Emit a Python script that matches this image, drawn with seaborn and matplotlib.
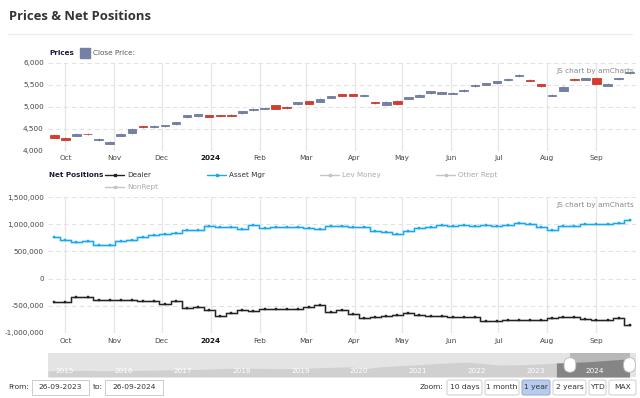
import numpy as np
import pandas as pd
import matplotlib
matplotlib.use("Agg")
import matplotlib.pyplot as plt
import matplotlib.dates as mdates
from matplotlib.patches import Rectangle, FancyBboxPatch
from matplotlib.lines import Line2D
import seaborn as sns

# weekly data (26-09-2023 .. 26-09-2024)
weeks = pd.date_range("2023-09-24", periods=53, freq="7D")

open_px = [4360, 4300, 4350, 4395, 4240, 4170, 4350, 4410, 4560, 4545,
           4565, 4615, 4775, 4795, 4810, 4810, 4815, 4865, 4930, 4960,
           5040, 5010, 5070, 5125, 5120, 5210, 5285, 5290, 5240, 5105,
           5055, 5140, 5190, 5235, 5320, 5305, 5300, 5365, 5475, 5505,
           5535, 5615, 5695, 5620, 5515, 5255, 5370, 5645, 5620, 5650,
           5485, 5625, 5765]
close_px = [4300, 4240, 4390, 4380, 4270, 4215, 4390, 4500, 4535, 4565,
            4585, 4650, 4810, 4830, 4780, 4795, 4800, 4900, 4955, 4980,
            4960, 4975, 5105, 5075, 5180, 5245, 5255, 5255, 5270, 5090,
            5110, 5060, 5220, 5270, 5355, 5335, 5315, 5385, 5500, 5540,
            5580, 5640, 5730, 5595, 5480, 5280, 5455, 5605, 5650, 5530,
            5520, 5650, 5800]

dealer = [-430, -430, -340, -340, -385, -385, -385, -397, -415, -415,
          -459, -409, -538, -519, -580, -679, -635, -574, -598, -556,
          -556, -556, -560, -525, -480, -617, -580, -648, -721, -708,
          -690, -666, -629, -660, -679, -690, -703, -708, -708, -782,
          -782, -763, -758, -770, -758, -727, -708, -703, -740, -770,
          -758, -716, -850]
asset_mgr = [770, 705, 673, 686, 624, 624, 686, 710, 770, 800,
             825, 838, 888, 888, 967, 943, 943, 917, 985, 925,
             948, 948, 948, 930, 915, 961, 961, 943, 954, 875,
             851, 826, 875, 930, 954, 990, 967, 985, 972, 985,
             961, 985, 1015, 1004, 948, 900, 961, 972, 998, 998,
             998, 1022, 1077]

month_labels = ["Oct", "Nov", "Dec", "2024", "Feb", "Mar", "Apr", "May",
                "Jun", "Jul", "Aug", "Sep"]

# navigator (long history)
nav_years = [2014.88, 2015.0, 2015.5, 2016.0, 2016.5, 2017.0, 2017.5, 2018.0,
             2018.5, 2019.0, 2019.5, 2020.0, 2020.25, 2020.5, 2021.0, 2021.5,
             2022.0, 2022.5, 2023.0, 2023.5, 2024.0, 2024.5, 2024.74]
nav_close = [1950, 2050, 2080, 1940, 2100, 2270, 2420, 2820, 2720, 2600, 2950,
             3230, 2600, 3200, 3750, 4300, 4700, 3800, 3900, 4450, 4800,
             5450, 5750]
nav_labels = [str(y) for y in range(2015, 2025)]

zoom_buttons = ["10 days", "1 month", "1 year", "2 years", "YTD", "MAX"]

sns.set_theme(style="white")
plt.rcParams["font.family"] = ["DejaVu Sans"]

W, H = 640, 398
fig = plt.figure(figsize=(6.4, 3.98), dpi=100)
fig.patch.set_facecolor("white")


def fx(x):
    return x / W


def fy(y):
    return 1 - y / H


def add_ax(x0, y0, x1, y1):
    return fig.add_axes([fx(x0), fy(y1), fx(x1 - x0), (y1 - y0) / H])


# title
fig.text(fx(9), fy(16), "Prices & Net Positions", fontsize=9.4, fontweight="bold",
         family="Open Sans", color="#333333", va="center")
fig.add_artist(Line2D([fx(8), fx(632)], [fy(34), fy(34)], color="#eeeeee", lw=1))

xmin = pd.Timestamp("2023-09-20")
xmax = pd.Timestamp("2024-09-26")


def style_time_axis(ax):
    ax.set_xlim(xmin, xmax)
    ax.xaxis.set_major_locator(mdates.MonthLocator())
    ax.set_xticklabels([])
    for s in ax.spines.values():
        s.set_visible(False)
    ax.grid(False)
    ax.tick_params(axis="both", length=0, labelsize=5.2, colors="#444444", pad=3)
    for m in ax.xaxis.get_major_locator()():
        ax.axvline(m, color="#e6e6e6", lw=0.9, zorder=0)
    for yv in ax.get_yticks():
        ax.axhline(yv, color="#e2e2e2", lw=0.8, ls=(0, (4, 3)), zorder=0)


def month_text(ax, ypix):
    locs = ax.xaxis.get_major_locator()()
    for m, lab in zip(locs, month_labels):
        disp = ax.transData.transform((m, 0))[0]
        fig.text(disp / fig.bbox.width, fy(ypix), lab, fontsize=5.2,
                 ha="center", va="center", color="#111111" if lab == "2024" else "#444444",
                 fontweight="bold" if lab == "2024" else "normal")


# ---- prices panel
ax1 = add_ax(48, 63, 636, 151)
ax1.set_ylim(4000, 6000)
ax1.set_yticks([4000, 4500, 5000, 5500, 6000])
ax1.set_yticklabels(["4,000", "4,500", "5,000", "5,500", "6,000"])
style_time_axis(ax1)
op = np.array(open_px)
cl = np.array(close_px)
up = cl >= op
cols = np.where(up, "#7381a6", "#d83a2c")
edges = np.where(up, "#5f6d94", "#c02818")
ax1.bar(weeks, np.maximum(np.abs(cl - op), 12), bottom=np.minimum(op, cl),
        width=5.4, color=cols, edgecolor=edges, linewidth=0.5, zorder=3)
ax1.vlines(weeks, np.minimum(op, cl) - 15, np.maximum(op, cl) + 15, color="#8e9ab8",
           lw=0.6, zorder=2)
month_text(ax1, 158)

fig.text(fx(49), fy(53), "Prices", fontsize=5.2, fontweight="bold", color="#1b1b3a",
         va="center")
fig.add_artist(Rectangle((fx(80), fy(58)), fx(10), 10 / H, color="#7381a6"))
fig.text(fx(93), fy(53), "Close Price:", fontsize=5.2, color="#555555", va="center")
fig.text(fx(634), fy(71), "JS chart by amCharts", fontsize=5.3, color="#888888",
         ha="right", va="center")

# ---- net positions panel
ax2 = add_ax(48, 197, 636, 333)
ax2.set_ylim(-1_000_000, 1_500_000)
ax2.set_yticks([-1_000_000, -500_000, 0, 500_000, 1_000_000, 1_500_000])
ax2.set_yticklabels(["-1,000,000", "-500,000", "0", "500,000", "1,000,000", "1,500,000"])
style_time_axis(ax2)
net = pd.DataFrame({"week": weeks,
                    "Dealer": np.array(dealer) * 1000,
                    "Asset Mgr": np.array(asset_mgr) * 1000})
sns.lineplot(data=net, x="week", y="Asset Mgr", ax=ax2, color="#a8e0f8", lw=1.9,
             drawstyle="steps-mid", zorder=2)
sns.lineplot(data=net, x="week", y="Asset Mgr", ax=ax2, color="#19a8ee", lw=0.8,
             drawstyle="steps-mid", marker="s", markersize=1.6, mec="#19a8ee",
             mew=0.3, zorder=3)
sns.lineplot(data=net, x="week", y="Dealer", ax=ax2, color="#bdbdbd", lw=1.9,
             drawstyle="steps-mid", zorder=2)
sns.lineplot(data=net, x="week", y="Dealer", ax=ax2, color="#222222", lw=0.8,
             drawstyle="steps-mid", marker="s", markersize=1.6, mec="#222222",
             mew=0.3, zorder=3)
ax2.set_xlabel("")
ax2.set_ylabel("")
ax2.set_xlim(xmin, xmax)
month_text(ax2, 341)
fig.text(fx(634), fy(205), "JS chart by amCharts", fontsize=5.3, color="#888888",
         ha="right", va="center")

fig.text(fx(49), fy(175), "Net Positions", fontsize=5.2, fontweight="bold",
         color="#1b1b3a", va="center")
legend_items = [("Dealer", 105, 175, "#222222", "#333333"),
                ("Asset Mgr", 207, 175, "#19a8ee", "#333333"),
                ("Lev Money", 320, 175, "#c4c4c4", "#aaaaaa"),
                ("Other Rept", 436, 175, "#c4c4c4", "#aaaaaa"),
                ("NonRept", 105, 187, "#c4c4c4", "#aaaaaa")]
for name, lx, ly, lc, tc in legend_items:
    fig.add_artist(Line2D([fx(lx), fx(lx + 19)], [fy(ly), fy(ly)], color=lc, lw=1.0))
    fig.add_artist(Line2D([fx(lx + 9.5)], [fy(ly)], color=lc, marker="s", ms=1.6))
    fig.text(fx(lx + 22), fy(ly), name, fontsize=5.2, color=tc, va="center")

# ---- navigator
ax3 = add_ax(48, 353, 636, 377)
ax3.set_facecolor("#e4e4e4")
ax3.set_xlim(2014.88, 2024.85)
ax3.set_ylim(0, 7600)
ax3.fill_between(nav_years, nav_close, color="#d0d0d0", lw=0)
nx = np.array(nav_years)
sel = nx >= 2023.5
ax3.axvspan(2023.73, 2024.74, color="#b8b8b8", lw=0)
ax3.fill_between(nx[sel], np.array(nav_close)[sel], color="#858585", lw=0)
ax3.set_xticks([])
ax3.set_yticks([])
for s in ax3.spines.values():
    s.set_visible(False)
for i, lab in enumerate(nav_labels):
    ax3.text(2015.0 + i, 900, lab, fontsize=5.2, color="white", va="bottom", ha="left")
for hx in (2023.73, 2024.74):
    ax3.add_patch(FancyBboxPatch((hx - 0.1, 1500), 0.2, 4600,
                                 boxstyle="round,pad=0,rounding_size=0.1",
                                 mutation_aspect=20000, fc="white", ec="#bbbbbb",
                                 lw=0.6, clip_on=False, zorder=5))

# ---- bottom controls
fig.text(fx(8), fy(387), "From:", fontsize=5.4, color="#333333", va="center")
for bx0, bx1, txt in [(32, 89, "26-09-2023"), (105, 163, "26-09-2024")]:
    fig.add_artist(Rectangle((fx(bx0), fy(395)), fx(bx1 - bx0), 15 / H, fc="white",
                             ec="#cccccc", lw=0.7))
    fig.text(fx((bx0 + bx1) / 2), fy(387), txt, fontsize=5.4, color="#333333",
             ha="center", va="center")
fig.text(fx(93), fy(387), "to:", fontsize=5.4, color="#333333", va="center")

fig.text(fx(420), fy(387), "Zoom:", fontsize=5.4, color="#333333", va="center")
btn_x = [(447, 482), (485, 519), (522, 550), (553, 586), (589, 606), (609, 636)]
for (bx0, bx1), txt in zip(btn_x, zoom_buttons):
    active = txt == "1 year"
    fig.add_artist(FancyBboxPatch((fx(bx0), fy(395)), fx(bx1 - bx0), 15 / H,
                                  boxstyle="round,pad=0,rounding_size=0.004",
                                  fc="#b7cbee" if active else "white",
                                  ec="#8fa8d6" if active else "#cccccc", lw=0.7))
    fig.text(fx((bx0 + bx1) / 2), fy(387), txt, fontsize=5.4, color="#333333",
             ha="center", va="center")

fig.savefig("out.png", dpi=100)
